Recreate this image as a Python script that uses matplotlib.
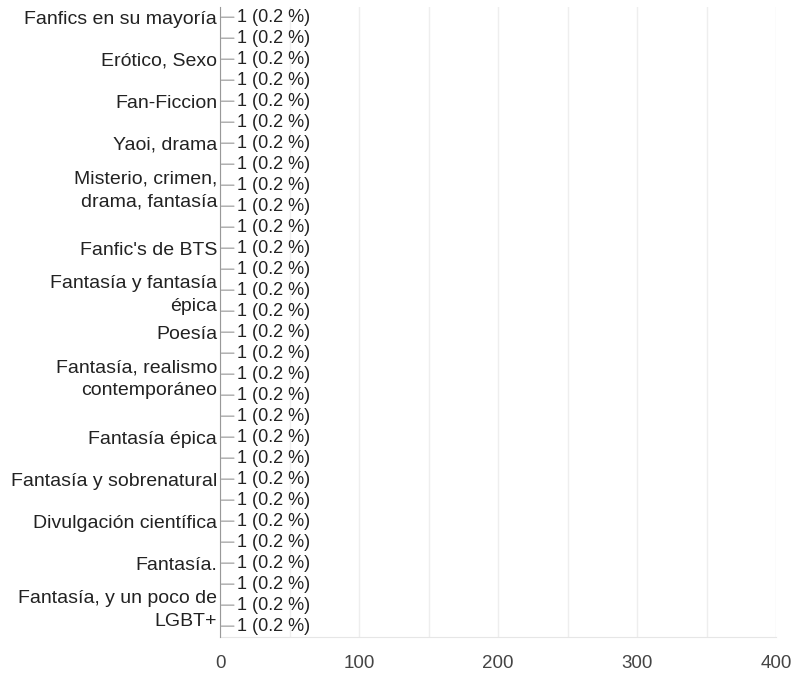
import matplotlib.pyplot as plt
from matplotlib.ticker import MultipleLocator

plt.rcParams['font.family'] = ['Liberation Sans', 'DejaVu Sans']

# one row per answer; only some rows show a label in the original
labels = [
    "Fanfics en su mayoría", "", "Erótico, Sexo", "", "Fan-Ficcion", "",
    "Yaoi, drama", "", "Misterio, crimen,\ndrama, fantasía", "", "",
    "Fanfic's de BTS", "", "Fantasía y fantasía\népica", "", "Poesía", "",
    "Fantasía, realismo\ncontemporáneo", "", "", "Fantasía épica", "",
    "Fantasía y sobrenatural", "", "Divulgación científica", "",
    "Fantasía.", "", "Fantasía, y un poco de\nLGBT+", "",
]
counts = [1] * len(labels)
percents = [0.2] * len(labels)
xticks = [0, 100, 200, 300, 400]

fig = plt.figure(figsize=(7.96, 6.73), dpi=100)
ax = fig.add_axes([0.2764, 0.054, 0.6985, 0.936])

ypos = list(range(len(labels)))
ax.barh(ypos, counts, height=0.85, color='#b08d80', zorder=3)

for y, c, p in zip(ypos, counts, percents):
    ax.annotate(f"{c} ({p} %)", xy=(c, y), xytext=(11, 0),
                textcoords='offset points', va='center', ha='left',
                fontsize=13, color='#222222',
                arrowprops=dict(arrowstyle='-', color='#aaaaaa', lw=1,
                                shrinkA=0, shrinkB=0))

ax.set_ylim(len(labels) - 0.5, -0.5)
ax.set_xlim(0, 400)
ax.set_yticks(ypos)
ax.set_yticklabels(labels, fontsize=14, color='#222222', linespacing=1.45)
ax.set_xticks(xticks)
ax.set_xticklabels([str(t) for t in xticks], fontsize=13.5, color='#444444')
ax.xaxis.set_minor_locator(MultipleLocator(50))

ax.grid(axis='x', which='both', color='#eeeeee', lw=1, zorder=0)
ax.tick_params(axis='y', length=0, pad=2)
ax.tick_params(axis='x', which='both', length=0, pad=13)

for s in ['top', 'right']:
    ax.spines[s].set_visible(False)
ax.spines['left'].set_color('#999999')
ax.spines['bottom'].set_color('#e6e6e6')
ax.spines['left'].set_zorder(4)

fig.savefig('out.png', dpi=100)
